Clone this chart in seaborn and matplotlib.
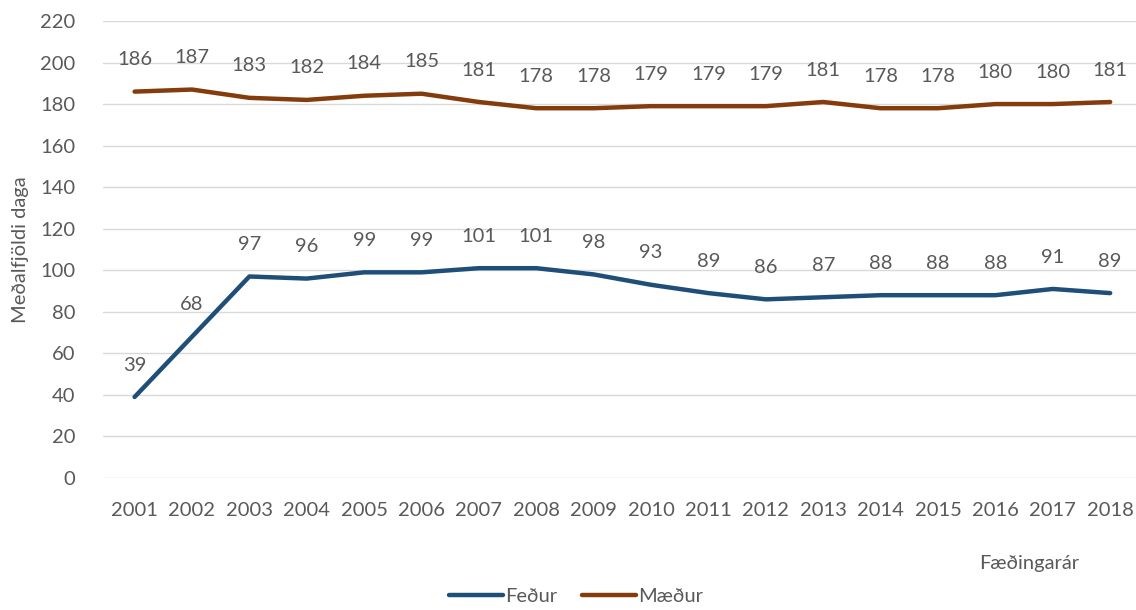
import matplotlib
matplotlib.use("Agg")
import matplotlib.pyplot as plt
import pandas as pd
import seaborn as sns

years = [str(y) for y in range(2001, 2019)]
fedur = [39, 68, 97, 96, 99, 99, 101, 101, 98, 93, 89, 86, 87, 88, 88, 88, 91, 89]
maedur = [186, 187, 183, 182, 184, 185, 181, 178, 178, 179, 179, 179, 181, 178, 178, 180, 180, 181]

sns.set_style("white")
plt.rcParams['font.family'] = ['Lato', 'DejaVu Sans']

df = pd.DataFrame({
    'ar': years * 2,
    'dagar': fedur + maedur,
    'hopur': ['Feður'] * len(years) + ['Mæður'] * len(years),
})
colors = {'Feður': '#1f4e79', 'Mæður': '#843c0c'}
grey = '#595959'
fs = 14.5

fig = plt.figure(figsize=(11.36, 6.10), dpi=100)
ax = fig.add_axes([0.0907, 0.2164, 0.9093, 0.7492])
sns.lineplot(data=df, x='ar', y='dagar', hue='hopur', palette=colors,
             linewidth=3.2, ax=ax, sort=False)

# data labels above each point
for name, vals in [('Feður', fedur), ('Mæður', maedur)]:
    for i, v in enumerate(vals):
        ax.annotate(str(v), (i, v), xytext=(0, 23), textcoords='offset points',
                    ha='center', va='center', fontsize=fs, color=grey)

ax.set_ylim(0, 220)
ax.set_yticks(range(0, 221, 20))
ax.set_xlim(-0.55, 17.45)
ax.grid(axis='y', color='#d9d9d9', linewidth=1)
ax.set_axisbelow(True)
for s in ax.spines.values():
    s.set_visible(False)
ax.tick_params(axis='both', length=0, labelsize=fs, labelcolor=grey)
ax.tick_params(axis='x', pad=17)
ax.tick_params(axis='y', pad=20)
ax.set_xlabel('')
ax.set_ylabel('Meðalfjöldi daga', fontsize=fs, color=grey, labelpad=8)
fig.text(0.906, 0.077, 'Fæðingarár', fontsize=fs, color=grey, ha='center', va='center')

handles, labels = ax.get_legend_handles_labels()
ax.get_legend().remove()
fig.legend(handles, labels, loc='center', bbox_to_anchor=(0.507, 0.022),
           ncol=2, frameon=False, fontsize=fs, handlelength=2.7,
           handletextpad=0.1, columnspacing=1.2, labelcolor=grey)

fig.savefig('out.png', dpi=100)
